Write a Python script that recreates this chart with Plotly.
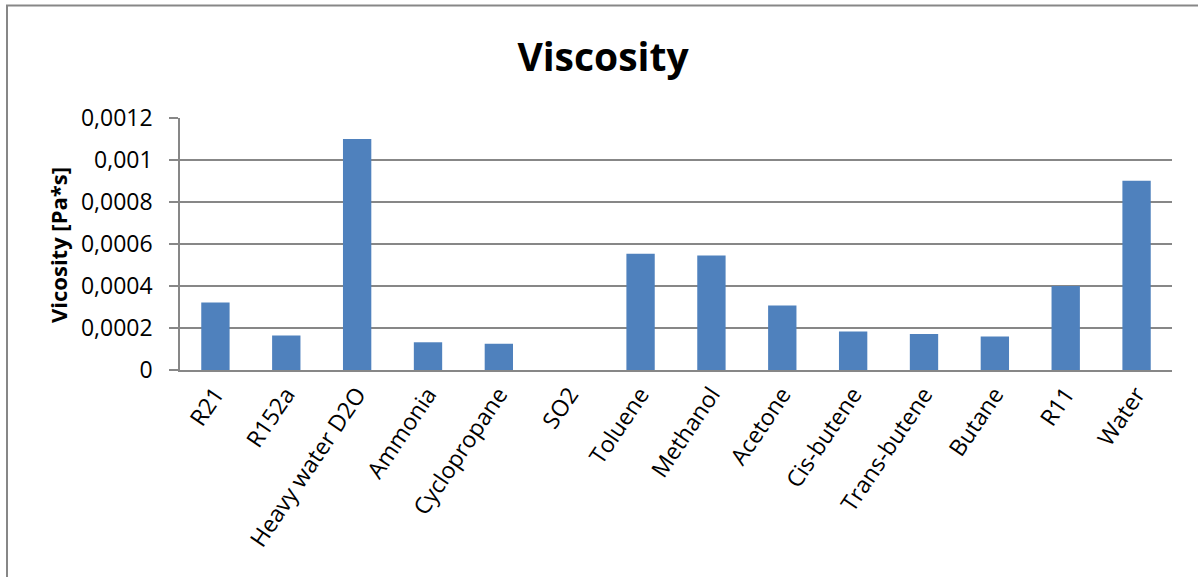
import plotly.graph_objects as go

categories = ["R21", "R152a", "Heavy water D2O", "Ammonia", "Cyclopropane", "SO2",
              "Toluene", "Methanol", "Acetone", "Cis-butene", "Trans-butene",
              "Butane", "R11", "Water"]
viscosity = [0.000321, 0.000164, 0.00110, 0.000132, 0.000125, 0.0,
             0.000553, 0.000545, 0.000307, 0.000183, 0.000172,
             0.000159, 0.000400, 0.000901]
tick_values = [0, 0.0002, 0.0004, 0.0006, 0.0008, 0.001, 0.0012]
tick_labels = ["0", "0,0002", "0,0004", "0,0006", "0,0008", "0,001", "0,0012"]

FONT = "Open Sans"
GRID = "#878787"

fig = go.Figure()
fig.add_trace(go.Bar(
    x=categories, y=viscosity,
    marker=dict(color="#4F81BD", line=dict(width=0)),
    width=0.4,
))

fig.update_layout(
    width=1198, height=577,
    margin=dict(l=180, r=26, t=118, b=207),
    paper_bgcolor="white", plot_bgcolor="white",
    showlegend=False,
    font=dict(family=FONT, color="black", size=23),
    title=dict(text="<b>Viscosity</b>", x=603/1198, xanchor="center",
               y=1-57/577, yanchor="middle", yref="container",
               font=dict(family=FONT, size=39, color="black")),
    xaxis=dict(
        type="category", tickangle=-56, showgrid=False,
        showline=True, linecolor=GRID, linewidth=1.5,
        ticks="", tickfont=dict(family=FONT, size=23),
    ),
    yaxis=dict(
        range=[0, 0.0012], tickvals=tick_values, ticktext=tick_labels,
        showgrid=True, gridcolor=GRID, gridwidth=1.5,
        showline=True, linecolor=GRID, linewidth=1.5,
        ticks="outside", ticklen=9, tickcolor=GRID, tickwidth=1.5,
        ticklabelstandoff=12,
        tickfont=dict(family=FONT, size=23), zeroline=False,
    ),
    annotations=[dict(
        text="<b>Vicosity [Pa*s]</b>", textangle=-90,
        xref="paper", yref="paper",
        x=(58-180)/992, y=(370-245)/252, xanchor="center", yanchor="middle",
        showarrow=False, font=dict(family=FONT, size=22, color="black"),
    )],
    shapes=[dict(
        type="rect", xref="paper", yref="paper", layer="below",
        x0=(7-180)/992, x1=1.1, y0=-1.2, y1=(370-5.5)/252,
        line=dict(color="#878787", width=2), fillcolor="rgba(0,0,0,0)",
    )],
)

fig.write_html("out.html",
               config={"displayModeBar": False},
               post_script="document.body.style.margin='0';document.body.style.overflow='hidden';")
